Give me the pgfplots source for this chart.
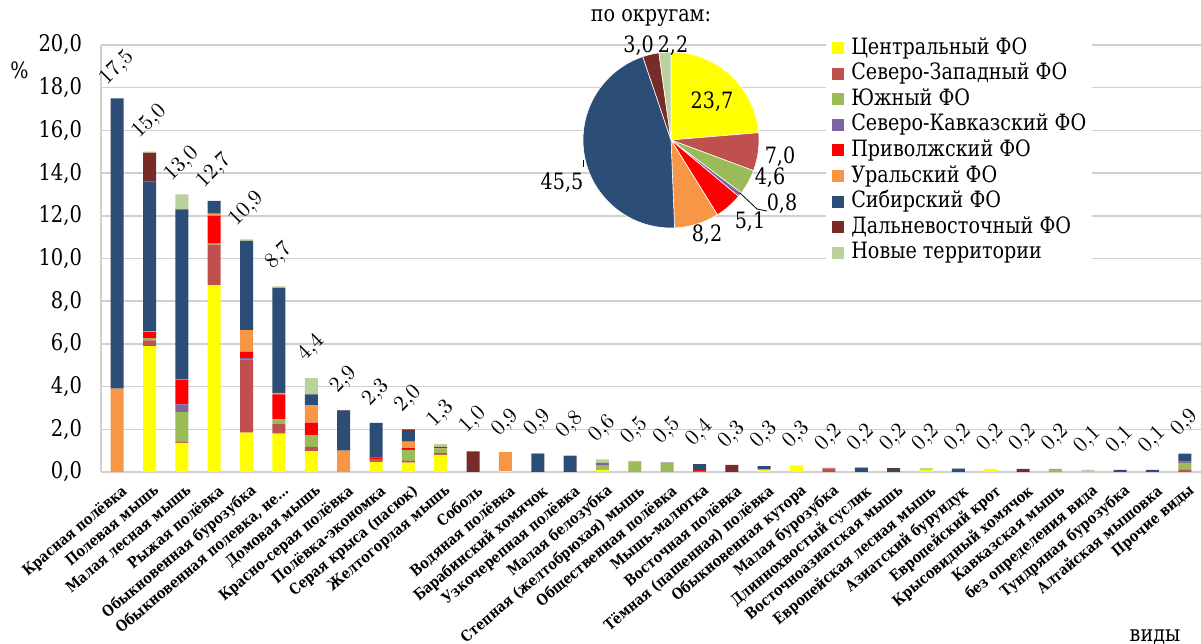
\documentclass[border=0pt]{standalone}
\usepackage{fontspec}
\setmainfont{DejaVu Serif}[FakeStretch=0.85]
\usepackage{pgfplots}
\usepackage{pgfplotstable}
\pgfplotsset{compat=1.18}
\definecolor{cC}{HTML}{FFFF00}
\definecolor{cNW}{HTML}{C0504D}
\definecolor{cS}{HTML}{9BBB59}
\definecolor{cNC}{HTML}{8064A2}
\definecolor{cV}{HTML}{FF0000}
\definecolor{cU}{HTML}{F79646}
\definecolor{cSi}{HTML}{2C4D75}
\definecolor{cFE}{HTML}{772C2A}
\definecolor{cN}{HTML}{BBD19C}
\definecolor{gridc}{HTML}{D0D0D0}

\pgfplotstableread{
x C NW S NC V U Si FE N total
0 0 0 0 0 0 3.9 13.6 0 0 17.5
1 5.9 0.27 0.1 0 0.28 0.05 7.0 1.35 0.05 15.0
2 1.36 0.05 1.4 0.36 1.16 0.02 7.95 0 0.7 13.0
3 8.75 1.9 0.05 0 1.3 0.1 0.6 0 0 12.7
4 1.84 3.44 0 0.06 0.3 1.0 4.18 0 0.08 10.9
5 1.8 0.44 0.23 0 1.16 0.08 4.91 0 0.08 8.7
6 0.98 0.2 0.55 0 0.58 0.82 0.5 0 0.77 4.4
7 0 0 0 0 0 1.0 1.88 0.02 0 2.9
8 0.48 0.1 0 0 0.1 0 1.62 0 0 2.3
9 0.44 0.08 0.52 0 0.08 0.3 0.5 0.08 0 2.0
10 0.8 0.08 0.23 0 0.07 0 0 0 0.12 1.3
11 0 0 0 0 0 0 0 0.97 0 1.0
12 0.04 0 0 0 0 0.89 0 0 0 0.9
13 0 0 0 0 0 0 0.86 0 0.02 0.9
14 0 0 0 0 0 0 0.76 0 0.02 0.8
15 0.1 0 0.2 0.13 0 0 0 0 0.16 0.6
16 0 0 0.5 0 0 0 0 0 0.02 0.5
17 0 0 0.39 0.05 0 0 0 0 0.02 0.5
18 0 0.05 0 0 0.04 0 0.28 0 0 0.4
19 0 0 0 0 0 0 0 0.33 0 0.3
20 0.08 0 0 0 0 0.06 0.14 0 0 0.3
21 0.3 0 0 0 0 0 0 0 0 0.3
22 0 0.17 0 0 0 0 0 0 0.04 0.2
23 0 0 0 0 0 0 0.2 0 0.02 0.2
24 0 0 0 0 0 0 0.1 0.08 0 0.2
25 0.1 0 0 0 0 0 0 0 0.08 0.2
26 0 0 0 0 0 0 0.16 0 0.01 0.2
27 0.15 0 0 0 0 0 0 0 0 0.2
28 0 0 0 0 0 0 0 0.15 0 0.2
29 0 0 0.15 0 0 0 0 0 0 0.2
30 0 0 0 0 0 0 0 0 0.1 0.1
31 0 0 0 0 0 0 0.1 0 0 0.1
32 0 0 0 0 0 0 0.1 0 0 0.1
33 0 0.1 0.33 0.06 0 0 0.35 0 0.06 0.9
}\data

\pgfplotsset{frame/.style={at={(50.5bp,86bp)}, anchor=south west,
  scale only axis, width=550bp, height=213.5bp,
  xmin=-0.5, xmax=33.5, ymin=0, ymax=20}}

\begin{document}
\begin{tikzpicture}
\useasboundingbox (0,0) rectangle (600.5bp,322bp);
\begin{axis}[frame,
  ybar stacked, bar width=6.5bp,
  ytick={0,2,...,20},
  xtick={0,...,33},
  xticklabels={Красная полёвка,Полевая мышь,Малая лесная мышь,Рыжая полёвка,Обыкновенная бурозубка,{Обыкновенная полевка, не…},Домовая мышь,Красно-серая полёвка,Полёвка-экономка,Серая крыса (пасюк),Желтогорлая мышь,Соболь,Водяная полёвка,Барабинский хомячок,Узкочерепная полёвка,Малая белозубка,Степная (желтобрюхая) мышь,Общественная полёвка,Мышь-малютка,Восточная полёвка,Тёмная (пашенная) полёвка,Обыкновенная кутора,Малая бурозубка,Длиннохвостый суслик,Восточноазиатская мышь,Европейская лесная мышь,Азиатский бурундук,Европейский крот,Крысовидный хомячок,Кавказская мышь,без определения вида,Тундряная бурозубка,Алтайская мышовка,Прочие виды},
  xticklabel style={xshift=1.5bp, yshift=-5.5bp, rotate=40, anchor=north east, font=\fontsize{7.6}{9}\selectfont\bfseries, inner sep=0pt},
  yticklabel style={font=\fontsize{11.5}{13}\selectfont, xshift=-6bp},
  /pgf/number format/assume math mode=true,
  y tick label style={/pgf/number format/.cd, fixed, fixed zerofill, precision=1, use comma},
  ymajorgrids, grid style={draw=gridc, line width=0.75bp},
  axis x line*=bottom, axis y line*=left,
  axis line style={draw=gridc, line width=0.75bp, -},
  major tick length=0pt,
  legend cell align=left,
  legend image code/.code={\fill[#1] (0bp,-3bp) rectangle (6bp,3bp);},
  legend style={at={(0.659,1.036)}, anchor=north west, draw=none, fill=white,
    font=\fontsize{11.3}{13}\selectfont, inner sep=3bp, row sep=0.8bp,
    nodes={inner sep=0pt, text height=9bp, text depth=3bp},
    /tikz/every odd column/.append style={column sep=3.5bp}},
]
\addplot[fill=cC, draw=none] table[x=x, y=C] {\data};
\addplot[fill=cNW, draw=none] table[x=x, y=NW] {\data};
\addplot[fill=cS, draw=none] table[x=x, y=S] {\data};
\addplot[fill=cNC, draw=none] table[x=x, y=NC] {\data};
\addplot[fill=cV, draw=none] table[x=x, y=V] {\data};
\addplot[fill=cU, draw=none] table[x=x, y=U] {\data};
\addplot[fill=cSi, draw=none] table[x=x, y=Si] {\data};
\addplot[fill=cFE, draw=none] table[x=x, y=FE] {\data};
\addplot[fill=cN, draw=none] table[x=x, y=N] {\data};
\legend{Центральный ФО,Северо-Западный ФО,Южный ФО,Северо-Кавказский ФО,Приволжский ФО,Уральский ФО,Сибирский ФО,Дальневосточный ФО,Новые территории}
\end{axis}
% totals above the bars
\begin{axis}[frame, hide axis, clip=false]
\addplot[only marks, mark=*, mark size=0pt, mark options={draw=none, fill=none}, point meta=explicit,
  nodes near coords={\pgfmathprintnumber[fixed,fixed zerofill,precision=1,use comma]{\pgfplotspointmeta}},
  every node near coord/.append style={font=\fontsize{11}{13}\selectfont, anchor=center, yshift=15bp, rotate=45, black, inner sep=0pt}]
  table[x=x, y=total, meta=total] {\data};
\end{axis}
% pie chart by okrug (values in %), cumulative start/end
\begin{scope}[shift={(335.5bp,252bp)}]
\foreach \a/\b/\c in {0/23.7/cC, 23.7/30.7/cNW, 30.7/35.3/cS, 35.3/36.1/cNC, 36.1/41.2/cV, 41.2/49.4/cU, 49.4/94.9/cSi, 94.9/97.9/cFE, 97.9/100.1/cN}{
  \fill[\c, draw=white, line width=0.3bp] (0,0) -- ({90-\a*3.5964}:44bp) arc[start angle={90-\a*3.5964}, end angle={90-\b*3.5964}, radius=44bp] -- cycle;
}
\end{scope}
\begin{scope}[every node/.style={font=\fontsize{11.3}{13}\selectfont, inner sep=0pt}]
\node at (325.5bp,313bp) {по округам:};
\node at (356bp,271bp) {23,7};
\node at (390bp,243.5bp) {7,0};
\node at (385bp,233bp) {4,6};
\node at (391bp,220bp) {0,8};
\draw[line width=0.4bp] (370bp,225.5bp) -- (378.5bp,217.5bp) -- (383.5bp,216.5bp);
\draw[line width=0.4bp] (291.5bp,242bp) -- (291.5bp,238.5bp);
\node at (375bp,211bp) {5,1};
\node at (353.5bp,204.5bp) {8,2};
\node at (281bp,230.5bp) {45,5};
\node at (319.3bp,299bp) {3,0};
\node at (336.5bp,299bp) {2,2};
\node at (9.75bp,287bp) {\%};
\node[anchor=base] at (577.5bp,1.5bp) {виды};
\end{scope}
\end{tikzpicture}
\end{document}
